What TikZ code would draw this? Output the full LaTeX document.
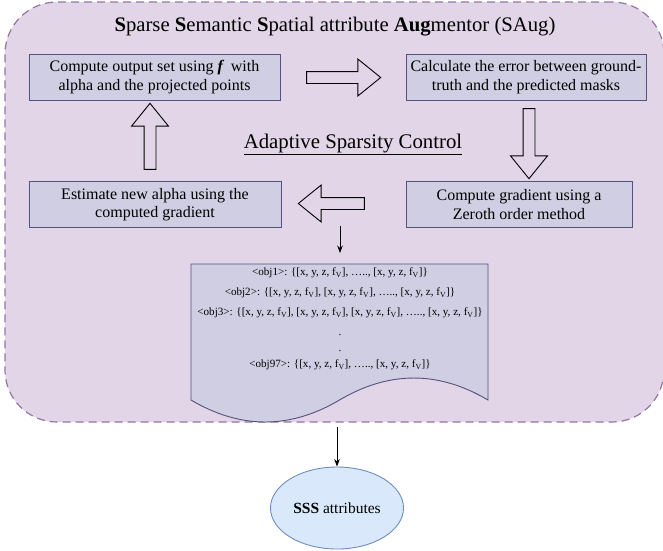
\documentclass[tikz,border=0pt]{standalone}
\usepackage{fontspec}
\setmainfont{Liberation Serif}
\usetikzlibrary{shapes.geometric, shapes.arrows, arrows.meta, positioning, calc}

\definecolor{grpfill}{HTML}{E1D5E7}
\definecolor{grpdraw}{HTML}{9673A6}
\definecolor{boxfill}{HTML}{D0CEE2}
\definecolor{boxdraw}{HTML}{56517E}
\definecolor{ellfill}{HTML}{DAE8FC}
\definecolor{elldraw}{HTML}{6C8EBF}

\tikzset{
  stepbox/.style={draw=boxdraw, fill=boxfill, line width=0.9pt, minimum height=46,
    align=center, inner sep=0pt, font=\fontsize{16}{18.5}\selectfont},
  blockarr/.style={single arrow, draw=black, line width=0.9pt, inner sep=5.5pt,
    minimum width=36, single arrow head extend=12.5, single arrow tip angle=78},
}

\begin{document}
\begin{tikzpicture}[x=1pt, y=-1pt, >=Stealth]
  \useasboundingbox (0,0) rectangle (663,550);

  % === SAug group ===
  \node[draw=grpdraw, fill=grpfill, line width=1.2pt, dash pattern=on 8pt off 5pt,
    rounded corners=52, minimum width=659, minimum height=420, inner sep=0pt]
    (saug) at (334.5,212) {};
  \node[anchor=base, font=\fontsize{20.7}{24}\selectfont] (title) at (335,31)
    {\textbf{S}parse \textbf{S}emantic \textbf{S}patial attribute \textbf{Aug}mentor (SAug)};

  % === loop steps ===
  \node[stepbox, minimum width=251] (outset) at (154.5,77)
    {Compute output set using \textbf{\textit{f}}\, with\\alpha and the projected points};
  \node[stepbox, minimum width=240] (errcalc) at (526,77)
    {Calculate the error between ground-\\truth and the predicted masks};
  \node[stepbox, minimum width=226] (grad) at (519,204.5)
    {Compute gradient using a\\Zeroth order method};
  \node[stepbox, minimum width=252] (alpha) at (155,204.5)
    {Estimate new alpha using the\\computed gradient};

  \node[anchor=base, font=\fontsize{20.8}{24}\selectfont] (asc) at (353,148)
    {\underline{Adaptive Sparsity Control}};

  % block arrows between the steps
  \node[blockarr, minimum height=74] (a12) at (340,77.5) {};
  \node[blockarr, minimum height=70, shape border rotate=270] (a23) at (529,140) {};
  \node[blockarr, minimum height=66, shape border rotate=180] (a34) at (335,203.5) {};
  \node[blockarr, minimum height=66, shape border rotate=90] (a41) at (150,140) {};

  % === output document ===
  \draw[boxdraw, fill=boxfill, line width=0.9pt] (191,264) -- (488,264) -- (488,400)
    .. controls (438.5,370.7) and (389,370.7) .. (339.5,400)
    .. controls (290,429.3) and (240.5,429.3) .. (191,400) -- cycle;
  \node[align=center, inner sep=0pt, font=\fontsize{11.1}{20}\selectfont] (objs) at (340,319)
    {<obj1>: \{[x, y, z, f\textsubscript{V}], \ldots.., [x, y, z, f\textsubscript{V}]\}\\
     <obj2>: \{[x, y, z, f\textsubscript{V}], [x, y, z, f\textsubscript{V}], \ldots.., [x, y, z, f\textsubscript{V}]\}\\
     <obj3>: \{[x, y, z, f\textsubscript{V}], [x, y, z, f\textsubscript{V}], [x, y, z, f\textsubscript{V}], \ldots.., [x, y, z, f\textsubscript{V}]\}\\
     .\\[-4pt]
     .\\[-4pt]
     <obj97>: \{[x, y, z, f\textsubscript{V}], \ldots.., [x, y, z, f\textsubscript{V}]\}};
  \coordinate (fork) at (340,226);
  \coordinate (docin) at (340,253);
  \draw[->, line width=1pt] (fork) -- (docin);

  % === result ===
  \node[ellipse, draw=elldraw, fill=ellfill, line width=0.9pt, minimum width=112,
    minimum height=82, font=\fontsize{15.5}{18}\selectfont] (sss) at (337,508)
    {\textbf{SSS} attributes};
  \draw[->, line width=1pt, shorten <=4pt] (saug.south -| sss.north) -- (sss.north);
\end{tikzpicture}
\end{document}
